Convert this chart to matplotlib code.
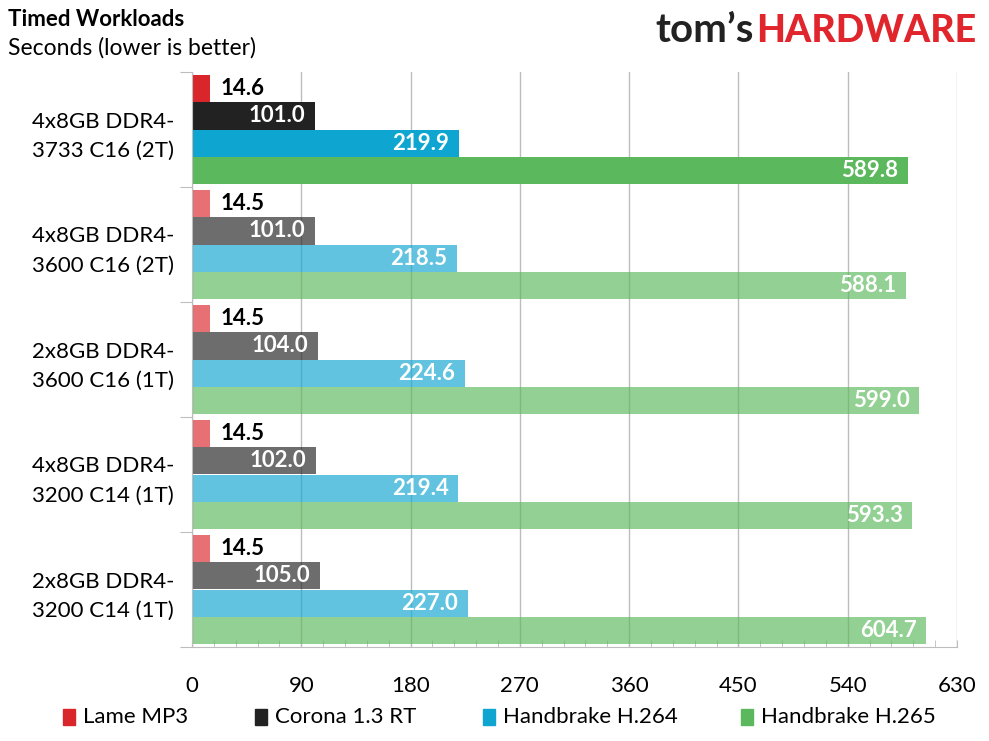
import matplotlib
matplotlib.use("Agg")
import matplotlib.pyplot as plt
from matplotlib.ticker import MultipleLocator, FixedLocator, NullFormatter
from matplotlib.patches import Rectangle

plt.rcParams['font.family'] = ['Lato', 'DejaVu Sans']

# data
configs = ["4x8GB DDR4-\n3733 C16 (2T)", "4x8GB DDR4-\n3600 C16 (2T)",
           "2x8GB DDR4-\n3600 C16 (1T)", "4x8GB DDR4-\n3200 C14 (1T)",
           "2x8GB DDR4-\n3200 C14 (1T)"]
series = ["Lame MP3", "Corona 1.3 RT", "Handbrake H.264", "Handbrake H.265"]
lame = [14.6, 14.5, 14.5, 14.5, 14.5]
corona = [101.0, 101.0, 104.0, 102.0, 105.0]
h264 = [219.9, 218.5, 224.6, 219.4, 227.0]
h265 = [589.8, 588.1, 599.0, 593.3, 604.7]
values = [lame, corona, h264, h265]
colors = ["#d9262b", "#222222", "#0fa5d1", "#5cb85c"]

fig = plt.figure(figsize=(9.89, 7.41), dpi=100)
ax = fig.add_axes([192/989, 1 - 647/741, (957 - 192)/989, (647 - 72)/741])

bh = 0.235
for k, (vals, col) in enumerate(zip(values, colors)):
    for i, v in enumerate(vals):
        y = i + (k - 1.5) * bh
        alpha = 1.0 if i == 0 else 0.66
        ax.barh(y, v, height=bh, color=col, alpha=alpha, zorder=2, linewidth=0)
        if k == 0:
            ax.annotate(f"{v:.1f}", (v, y), xytext=(8, 0), textcoords="offset points",
                        ha="left", va="center", fontsize=16, fontweight="bold",
                        color="black", zorder=3)
        else:
            ax.annotate(f"{v:.1f}", (v, y), xytext=(-7, 0), textcoords="offset points",
                        ha="right", va="center", fontsize=16, fontweight="bold",
                        color="white", zorder=3)

ax.set_xlim(0, 630)
ax.set_ylim(4.5, -0.5)
ax.xaxis.set_major_locator(MultipleLocator(90))
ax.xaxis.set_minor_locator(MultipleLocator(18))
ax.grid(axis="x", which="major", color="#bdbdbd", linewidth=1, zorder=1)
ax.tick_params(axis="x", which="both", direction="in", color="#bdbdbd",
               labelsize=16, pad=21)
ax.tick_params(axis="x", which="major", length=5)
ax.tick_params(axis="x", which="minor", length=5)

ax.yaxis.set_major_locator(FixedLocator([-0.5, 0.5, 1.5, 2.5, 3.5, 4.5]))
ax.yaxis.set_major_formatter(NullFormatter())
ax.yaxis.set_minor_locator(FixedLocator(range(len(configs))))
ax.set_yticklabels(configs, minor=True, fontsize=16, linespacing=1.6, ha="center")
ax.tick_params(axis="y", which="major", direction="out", length=9, color="#bdbdbd")
ax.tick_params(axis="y", which="minor", length=0, pad=64)

ax.spines["top"].set_visible(False)
ax.spines["right"].set_visible(False)
for s in ["left", "bottom"]:
    ax.spines[s].set_color("#bdbdbd")

# titles
fig.text(8/989, 1 - 20/741, "Timed Workloads", fontsize=16, fontweight="bold",
         va="center", ha="left")
fig.text(8/989, 1 - 48/741, "Seconds (lower is better)", fontsize=16.5,
         va="center", ha="left")

# logo
hw = fig.text(976/989, 1 - 31/741, "HARDWARE", fontsize=27, fontweight="black",
              color="#e0262c", ha="right", va="center")
fig.canvas.draw()
bb = hw.get_window_extent()
fig.text(bb.x0 / fig.bbox.width - 2/989, 1 - 31/741, "tom\u2019s", fontsize=29,
         fontweight="bold", color="#222222", ha="right", va="center")

# legend
leg_x = [63, 255, 483, 741]
for name, col, x in zip(series, colors, leg_x):
    fig.patches.append(Rectangle((x/989, 1 - 725/741), 12/989, 16/741, color=col,
                                 transform=fig.transFigure, figure=fig))
    fig.text((x + 20)/989, 1 - 717/741, name, fontsize=16, va="center", ha="left")

fig.savefig("out.png", dpi=100)
